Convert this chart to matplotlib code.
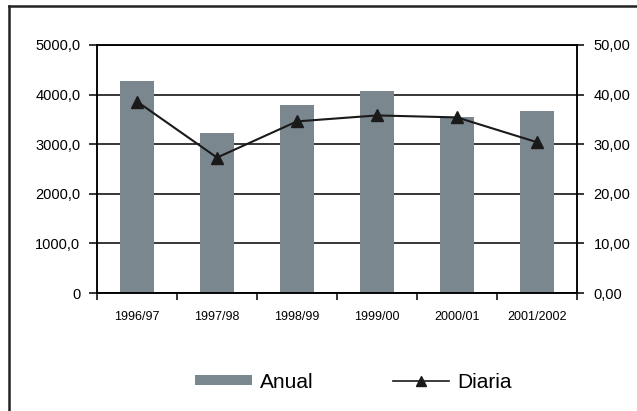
import numpy as np
import matplotlib
matplotlib.use("Agg")
import matplotlib.pyplot as plt
from matplotlib.lines import Line2D
from matplotlib.patches import Patch

# datos
campanas = ["1996/97", "1997/98", "1998/99", "1999/00", "2000/01", "2001/2002"]
anual = [4280, 3220, 3790, 4080, 3540, 3675]
diaria = [38.6, 27.3, 34.6, 35.8, 35.4, 30.4]

plt.rcParams['font.family'] = ['Liberation Sans', 'DejaVu Sans']

fig = plt.figure(figsize=(6.37, 4.11), dpi=100)
ax = fig.add_axes([97/637, 1 - 293/411, 480/637, 248/411])
ax2 = ax.twinx()

x = np.arange(len(campanas))
ax.bar(x, anual, width=0.42, color='#7b878e', zorder=2)
ax.set_xlim(-0.5, len(campanas) - 0.5)
ax.set_ylim(0, 5000)
ax.set_yticks(np.arange(0, 5001, 1000))
ax.set_yticklabels(['0'] + [f'{v},0' for v in range(1000, 5001, 1000)], fontsize=10.5)
ax.yaxis.grid(True, color='black', linewidth=1.1, zorder=0)
ax.set_axisbelow(True)

ax.set_xticks(np.arange(-0.5, len(campanas), 1.0))
ax.set_xticklabels([])
ax.set_xticks(x, minor=True)
ax.set_xticklabels(campanas, minor=True, fontsize=9)
ax.tick_params(axis='x', which='major', length=5, width=1.1, direction='out')
ax.tick_params(axis='x', which='minor', length=0, pad=13)
ax.tick_params(axis='y', length=6, width=1.1, pad=6)

ax2.plot(x, diaria, color='#1a1a1a', linewidth=1.5, marker='^', markersize=8,
         markerfacecolor='#1a1a1a', markeredgecolor='#1a1a1a')
ax2.set_ylim(0, 50)
ax2.set_yticks(np.arange(0, 51, 10))
ax2.set_yticklabels([f'{v},00' for v in range(0, 51, 10)], fontsize=10.5)
ax2.tick_params(axis='y', length=5, width=1.1, pad=7)

for a in (ax, ax2):
    for s in a.spines.values():
        s.set_linewidth(1.1)
        s.set_color('black')

handles = [Patch(facecolor='#7b878e', edgecolor='none', label='Anual'),
           Line2D([], [], color='#1a1a1a', linewidth=1.2, marker='^', markersize=7, label='Diaria')]
fig.legend(handles=handles, loc='center', bbox_to_anchor=(0.555, 1 - 382/411), ncol=2,
           frameon=False, fontsize=15, handlelength=2.7, handleheight=0.4,
           handletextpad=0.4, columnspacing=3.8)

# marco del grafico (solo arriba e izquierda visibles)
fig.add_artist(Line2D([9/637, 9/637], [0, 1 - 6/411], transform=fig.transFigure,
                      color='#222222', linewidth=1.8))
fig.add_artist(Line2D([9/637, 1], [1 - 6/411, 1 - 6/411], transform=fig.transFigure,
                      color='#222222', linewidth=1.8))

fig.savefig('out.png', dpi=100)
